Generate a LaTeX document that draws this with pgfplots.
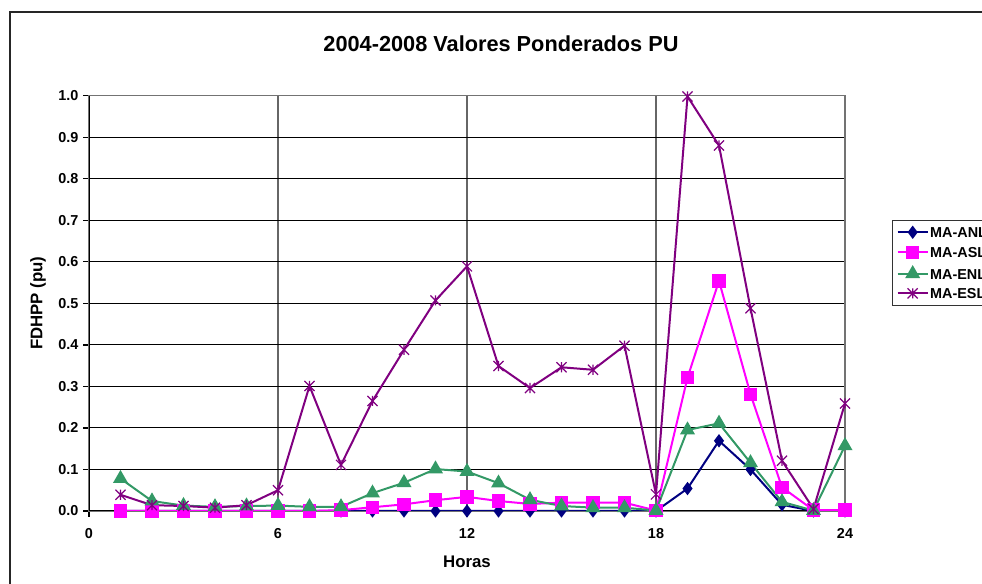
\documentclass[border=0pt]{standalone}
\usepackage{fontspec}
\setmainfont{Liberation Sans}
\usepackage{pgfplots}
\pgfplotsset{compat=1.18}
\definecolor{anl}{RGB}{0,0,128}
\definecolor{asl}{RGB}{255,0,255}
\definecolor{enl}{RGB}{51,153,102}
\definecolor{esl}{RGB}{128,0,128}
\pgfdeclareplotmark{xstar}{%
  \pgfpathmoveto{\pgfqpoint{-\pgfplotmarksize}{-\pgfplotmarksize}}%
  \pgfpathlineto{\pgfqpoint{\pgfplotmarksize}{\pgfplotmarksize}}%
  \pgfpathmoveto{\pgfqpoint{-\pgfplotmarksize}{\pgfplotmarksize}}%
  \pgfpathlineto{\pgfqpoint{\pgfplotmarksize}{-\pgfplotmarksize}}%
  \pgfpathmoveto{\pgfqpoint{0pt}{-\pgfplotmarksize}}%
  \pgfpathlineto{\pgfqpoint{0pt}{\pgfplotmarksize}}%
  \pgfusepathqstroke}
\begin{document}
\begin{tikzpicture}
\useasboundingbox (0,0) rectangle (736.5pt,438pt);
\clip (0,0) rectangle (736.5pt,438pt);
\draw[line width=1.5pt, black!85] (7.5pt,-20pt) rectangle (760pt,429pt);
\begin{axis}[
  at={(66.75pt,54.75pt)}, anchor=south west,
  scale only axis, width=567pt, height=311.5pt,
  xmin=0, xmax=24, ymin=0, ymax=1,
  xtick={0,6,12,18,24},
  ytick={0,0.1,...,1.0},
  yticklabel style={/pgf/number format/.cd, fixed, fixed zerofill, precision=1},
  xticklabel style={yshift=-5pt},
  /pgf/number format/assume math mode=true,
  tick label style={font=\fontsize{10.8}{12}\selectfont\bfseries},
  tick align=outside, xtick pos=lower, ytick pos=left,
  major tick length=4.5pt,
  tick style={black, line width=1pt},
  axis line style={draw=black!55, line width=1pt},
  ymajorgrids, xmajorgrids,
  y grid style={black, line width=0.75pt},
  x grid style={black!60, line width=1.1pt},
  title={2004-2008 Valores Ponderados PU},
  title style={font=\fontsize{16.3}{18}\selectfont\bfseries, at={(axis description cs:0.545,1.106)}, anchor=center},
  xlabel={Horas},
  ylabel={FDHPP (pu)},
  label style={font=\fontsize{12.6}{14}\selectfont\bfseries},
  xlabel style={at={(axis description cs:0.5,-0.1215)}, anchor=center},
  ylabel style={at={(axis description cs:-0.0675,0.5)}, anchor=center},
  legend style={at={(rel axis cs:1.0622,0.7012)}, anchor=north west,
    font=\fontsize{10.8}{12}\selectfont\bfseries, draw=black!80, line width=0.75pt,
    inner xsep=3pt, inner ysep=5pt, row sep=6.75pt,
    nodes={inner xsep=1pt, inner ysep=0pt, text height=8pt, text depth=0pt}},
  legend cell align=left,
  legend image code/.code={\draw[mark repeat=2,mark phase=2,#1] plot coordinates {(0cm,0cm) (0.4cm,0cm) (0.8cm,0cm)};},
  every axis plot/.append style={line width=1.5pt},
]
\draw[black, line width=1.5pt] (rel axis cs:0,0) -- (rel axis cs:1,0);
\draw[black, line width=1.5pt] (rel axis cs:0,0) -- (rel axis cs:0,1);
\addplot[color=anl, mark=diamond*, mark size=3.8pt, mark options={solid}] coordinates {
(1,0) (2,0) (3,0) (4,0) (5,0) (6,0) (7,0) (8,0) (9,0) (10,0) (11,0) (12,0)
(13,0) (14,0) (15,0) (16,0) (17,0) (18,0) (19,0.054) (20,0.169) (21,0.100) (22,0.015) (23,0) (24,0)};
\addlegendentry{MA-ANL}
\addplot[color=asl, mark=square*, mark size=4.3pt] coordinates {
(1,0) (2,0) (3,0) (4,0) (5,0) (6,0) (7,0) (8,0.002) (9,0.009) (10,0.016) (11,0.026) (12,0.034)
(13,0.024) (14,0.017) (15,0.020) (16,0.020) (17,0.020) (18,0.001) (19,0.321) (20,0.554) (21,0.281) (22,0.057) (23,0.002) (24,0.002)};
\addlegendentry{MA-ASL}
\addplot[color=enl, mark=triangle*, mark size=5pt] coordinates {
(1,0.078) (2,0.024) (3,0.013) (4,0.010) (5,0.012) (6,0.013) (7,0.010) (8,0.010) (9,0.043) (10,0.068) (11,0.101) (12,0.095)
(13,0.067) (14,0.027) (15,0.012) (16,0.008) (17,0.008) (18,0.001) (19,0.195) (20,0.211) (21,0.116) (22,0.022) (23,0.001) (24,0.157)};
\addlegendentry{MA-ENL}
\addplot[color=esl, mark=xstar, mark size=3.8pt, mark options={line width=0.9pt}] coordinates {
(1,0.039) (2,0.014) (3,0.012) (4,0.008) (5,0.014) (6,0.050) (7,0.301) (8,0.111) (9,0.265) (10,0.388) (11,0.507) (12,0.589)
(13,0.349) (14,0.296) (15,0.346) (16,0.340) (17,0.398) (18,0.040) (19,0.998) (20,0.880) (21,0.488) (22,0.121) (23,0.005) (24,0.259)};
\addlegendentry{MA-ESL}
\end{axis}
\end{tikzpicture}
\end{document}
